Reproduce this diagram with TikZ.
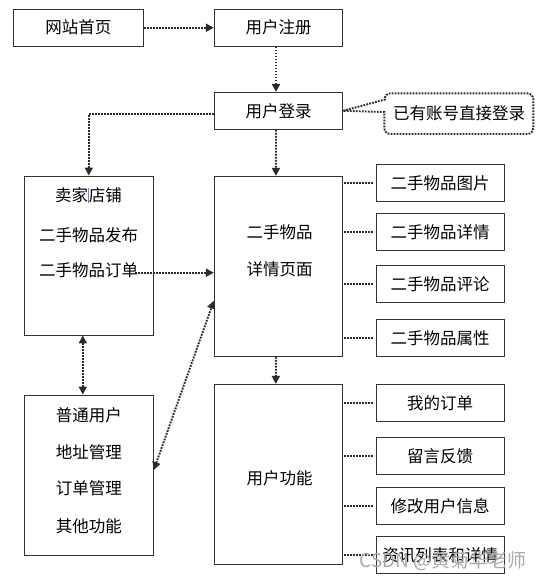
\documentclass[tikz,border=0pt]{standalone}
\usepackage{fontspec}
\setmainfont{Noto Sans CJK SC}
\usetikzlibrary{arrows.meta}
\definecolor{ln}{HTML}{333333}
\definecolor{dl}{HTML}{2B2B2B}
\definecolor{cur}{HTML}{8A7FC0}
\definecolor{wmc}{HTML}{A9A9A9}
\tikzset{
  box/.style={draw=ln, line width=0.9pt, rectangle, inner sep=0pt, font=\fontsize{16.5}{20}\selectfont},
  rbox/.style={box, minimum width=128pt, minimum height=37pt},
  txt/.style={inner sep=0pt, align=center, font=\fontsize{16.5}{20}\selectfont},
  dots/.style={draw=dl, line width=1.9pt, dash pattern=on 1.8pt off 1.2pt},
  arr/.style={dots, -{Triangle[width=8pt,length=8pt]}},
  darr/.style={dots, {Triangle[width=8pt,length=8pt]}-{Triangle[width=8pt,length=8pt]}},
  lnk/.style={dots, shorten >=3pt, shorten <=1pt}
}
\begin{document}
\begin{tikzpicture}[x=1pt,y=-1pt]
\useasboundingbox[fill=white] (0,0) rectangle (545,582);

% top boxes
\node[box, minimum width=130pt, minimum height=36.7pt] (home) at (78.3,27.7) {网站首页};
\node[box, minimum width=128.4pt, minimum height=36.7pt] (reg) at (278.5,27.7) {用户注册};
\node[box, minimum width=128.4pt, minimum height=37pt] (login) at (278.5,110.8) {用户登录};

% callout
\node[txt] (note) at (459,113.5) {已有账号直接登录};
\draw[dots] (login.east) -- (385,99.5) [rounded corners=6pt] -- (384.3,93.3) -- (533.3,93.3) -- (533.3,134) -- (384.3,134) -- (384.3,120) [sharp corners] -- (384.3,112) -- (login.east);

% left column
\node[box, minimum width=129pt, minimum height=159pt] (seller) at (88.8,255.5) {};
\node[txt] (sellerT) at (88.5,195.7) {卖家{\color{cur}\rule[-1.5pt]{0.6pt}{15pt}}店铺};
\node[txt] (sellerP) at (88.5,235) {二手物品发布};
\node[txt] (sellerO) at (88.5,270.7) {二手物品订单};
\coordinate (ordr) at (135,272.7);

\node[box, minimum width=129pt, minimum height=160pt] (user) at (88.8,475) {};
\node[txt] (u1) at (88.8,415) {普通用户};
\node[txt] (u2) at (88.8,451.7) {地址管理};
\node[txt] (u3) at (88.8,488.3) {订单管理};
\node[txt] (u4) at (88.8,526.7) {其他功能};

% middle column
\node[box, minimum width=128.2pt, minimum height=180pt] (detail) at (278.4,266.3) {};
\node[txt] (d1) at (279.5,232.7) {二手物品};
\node[txt] (d2) at (279.5,269.3) {详情页面};

\node[box, minimum width=128pt, minimum height=179.7pt] (func) at (278.3,474.2) {};
\node[txt] (f1) at (279.5,478.3) {用户功能};

% right boxes
\node[rbox] (r1) at (440,182.8) {二手物品图片};
\node[rbox] (r2) at (440,231.8) {二手物品详情};
\node[rbox] (r3) at (440,283.8) {二手物品评论};
\node[rbox] (r4) at (440,337.8) {二手物品属性};
\node[rbox] (s1) at (440,402.8) {我的订单};
\node[rbox] (s2) at (440,456.2) {留言反馈};
\node[rbox] (s3) at (440,505.8) {修改用户信息};
\node[rbox] (s4) at (440,555.3) {资讯列表和详情};

% arrows
\draw[arr] (home) -- (reg);
\draw[arr] ([xshift=-2.5pt]reg.south) -- ([xshift=-2.5pt]login.north);
\draw[arr] ([yshift=-3.5pt]login.west) -| (seller.north);
\draw[arr] ([xshift=-2.5pt]login.south) -- ([xshift=-2.5pt]detail.north);
\draw[arr] (ordr) -- (ordr -| detail.west);
\draw[darr] ([xshift=-6pt]seller.south) -- ([xshift=-6pt]user.north);
\draw[darr] ([yshift=5pt]user.east) -- ([yshift=-34.4pt]detail.west);
\draw[arr] ([xshift=-2.5pt]detail.south) -- ([xshift=-2.5pt]func.north);

% links
\foreach \n in {r1,r2,r3,r4} \draw[lnk] (\n.west -| detail.east) -- (\n.west);
\foreach \n in {s1,s2,s3,s4} \draw[lnk] (\n.west -| func.east) -- (\n.west);

% watermark
\node[inner sep=0pt, text=wmc, font=\fontsize{19}{22}\selectfont] (wm) at (443,561) {CSDN @黄菊华老师};
\end{tikzpicture}
\end{document}
